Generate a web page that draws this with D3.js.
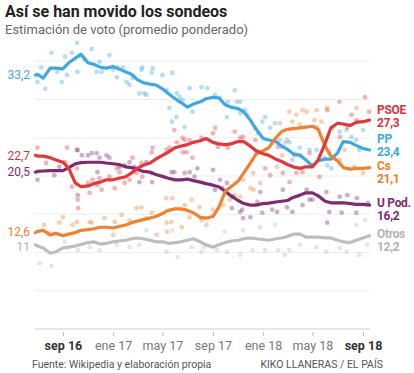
<!DOCTYPE html>
<html>
<head>
<meta charset="utf-8">
<script src="https://cdn.jsdelivr.net/npm/d3@7"></script>
<style>
  body { margin: 0; background: #fff; }
  svg { font-family: Roboto, "Noto Sans", sans-serif; }
</style>
</head>
<body>
<div id="chart"></div>
<script>
// estimacion de voto, promedio ponderado (cada quincena)
const dates = [
  "2016-06-26","2016-07-01","2016-07-15","2016-08-01","2016-08-15","2016-09-01","2016-09-15",
  "2016-10-01","2016-10-15","2016-11-01","2016-11-15","2016-12-01","2016-12-15",
  "2017-01-01","2017-01-15","2017-02-01","2017-02-15","2017-03-01","2017-03-15","2017-04-01","2017-04-15",
  "2017-05-01","2017-05-15","2017-06-01","2017-06-15","2017-07-01","2017-07-15","2017-08-01","2017-08-15",
  "2017-09-01","2017-09-15","2017-10-01","2017-10-15","2017-11-01","2017-11-15","2017-12-01","2017-12-15",
  "2018-01-01","2018-01-15","2018-02-01","2018-02-15","2018-03-01","2018-03-15","2018-04-01","2018-04-15",
  "2018-05-01","2018-05-15","2018-06-01","2018-06-15","2018-07-01","2018-07-15","2018-08-01","2018-08-15",
  "2018-09-01","2018-09-17"
];

const pp = [33.2,33.3,32.8,34.1,34.1,34.0,34.8,35.4,35.9,34.8,34.6,34.2,34.1,
  34.3,34.0,33.6,33.3,32.6,32.2,32.0,31.9,31.4,30.8,30.1,29.6,29.0,29.4,29.7,30.1,30.3,30.2,29.3,29.0,28.8,28.4,27.3,26.1,
  24.9,24.7,24.5,23.9,23.5,22.9,22.7,22.1,21.3,22.0,22.2,22.2,23.0,24.5,24.4,24.0,23.6,23.4];
const psoe = [22.7,22.6,22.6,22.4,22.1,21.8,21.0,19.1,18.6,18.7,19.0,19.2,19.5,
  19.5,19.7,19.9,20.4,21.0,21.4,21.7,22.2,22.7,23.1,23.7,23.9,24.1,24.4,24.6,24.9,24.4,24.2,24.1,24.2,24.5,24.5,23.9,23.3,
  22.9,22.7,22.2,21.9,21.5,21.2,21.0,21.2,21.2,22.1,24.3,26.3,26.9,26.8,26.6,27.0,27.1,27.3];
const cs = [12.6,12.75,12.9,12.3,12.5,12.2,12.4,12.6,12.9,13.0,13.1,13.3,13.3,
  13.2,13.4,13.6,13.9,14.1,14.3,14.5,14.7,15.1,15.5,15.7,15.7,15.5,15.2,14.6,14.5,14.7,15.9,18.0,18.6,19.3,20.4,21.7,22.9,
  23.3,23.7,25.0,25.8,26.1,26.2,26.3,26.4,26.5,26.1,23.9,22.6,22.0,21.1,20.9,21.0,21.0,21.1];
const upod = [20.5,20.6,20.65,20.7,20.7,20.7,21.1,21.6,21.75,21.8,21.8,21.8,21.7,
  21.6,21.5,21.2,21.1,20.9,20.6,20.5,20.2,19.95,19.7,19.5,19.5,19.6,19.4,19.2,19.0,18.8,18.6,18.0,17.4,16.8,16.4,16.2,16.2,
  16.4,16.45,16.6,16.7,16.8,17.2,17.5,17.8,17.8,17.4,16.7,16.5,16.5,16.5,16.4,16.3,16.3,16.2];
const otros = [11.0,10.85,10.6,9.9,10.1,10.6,10.7,10.85,11.05,11.3,11.4,11.1,11.2,
  11.4,11.5,11.6,11.8,11.9,11.8,11.6,11.4,11.4,11.2,11.3,11.4,11.6,11.8,11.4,11.0,10.7,11.0,11.3,11.5,11.6,11.8,11.9,11.8,
  11.7,11.6,11.8,11.9,12.1,12.4,12.4,12.0,12.0,12.0,11.9,11.9,11.6,11.4,11.3,11.6,11.9,12.2];

// encuestas individuales [fecha, valor]
const ppPolls = [["2016-07-01",32.3],["2016-07-10",34.2],["2016-07-20",31.4],["2016-08-04",36.1],["2016-08-18",33.6],
  ["2016-08-29",32.3],["2016-09-06",35.6],["2016-09-11",33.2],["2016-09-23",36.1],["2016-10-05",37.4],["2016-10-06",33.6],
  ["2016-10-12",35.8],["2016-10-24",35.2],["2016-11-10",36.6],["2016-11-22",33.6],["2016-11-29",34.9],["2016-12-04",33.6],
  ["2016-12-23",35.8],["2017-01-01",33.9],["2017-01-10",32.9],["2017-01-12",34.2],["2017-01-25",34.2],["2017-02-03",32.3],
  ["2017-02-10",31.9],["2017-02-17",32.8],["2017-03-06",30.8],["2017-03-11",33.9],["2017-03-18",30.8],["2017-03-13",34.2],
  ["2017-04-05",33.5],["2017-04-07",34.1],["2017-05-01",33.2],["2017-05-25",33.5],["2017-03-23",30.6],["2017-05-11",31.2],
  ["2017-05-18",28.9],["2017-06-05",30.8],["2017-06-12",30.3],["2017-06-19",29.9],["2017-07-06",31.5],["2017-07-13",28.4],
  ["2017-08-04",31.6],["2017-05-24",27.1],["2017-06-04",27.7],["2017-06-24",26.4],["2017-08-18",31.5],["2017-09-06",30.6],
  ["2017-09-18",30.2],["2017-10-07",29.7],["2017-10-24",31.2],["2017-10-29",29.7],["2017-11-06",29.7],["2017-11-18",28.6],
  ["2017-10-05",27.7],["2017-11-07",28.2],["2017-11-23",28.0],["2017-12-30",27.1],["2018-01-06",27.7],["2018-01-18",26.3],
  ["2018-01-30",26.9],["2018-02-11",24.7],["2018-02-28",24.7],["2018-03-31",23.7],["2018-04-24",23.4],["2018-05-11",23.4],
  ["2018-05-30",22.4],["2018-06-16",21.0],["2018-07-06",25.8],["2018-07-23",26.0],["2018-08-04",25.1],["2018-08-16",24.7],
  ["2018-08-23",23.4],["2018-09-01",26.0],["2018-06-06",21.4],["2018-03-13",22.1],["2018-03-31",22.7],["2018-02-16",23.8],
  ["2018-03-06",24.4],["2017-12-13",26.3],["2017-12-20",25.6]];
const psoePolls = [["2016-07-01",23.7],["2016-07-22",21.7],["2016-09-06",21.8],["2016-09-11",23.7],["2016-10-07",23.4],
  ["2016-10-05",21.0],["2016-09-23",18.6],["2016-10-07",16.9],["2016-10-08",15.8],["2016-11-05",17.8],["2016-11-01",19.1],
  ["2016-11-12",19.5],["2016-11-24",18.8],["2016-12-04",18.2],["2016-11-29",19.7],["2016-12-23",19.9],["2017-01-05",18.4],
  ["2017-01-10",21.0],["2017-01-17",20.5],["2017-01-29",19.1],["2017-02-10",19.5],["2017-02-17",22.4],["2017-02-27",20.4],
  ["2017-03-11",21.7],["2017-03-13",19.9],["2017-04-05",23.1],["2017-04-07",23.7],["2017-05-11",23.4],["2017-05-18",23.7],
  ["2017-05-30",26.0],["2017-06-05",24.4],["2017-06-19",25.0],["2017-06-24",24.7],["2017-06-20",23.1],["2017-06-29",23.1],
  ["2017-07-13",22.4],["2017-07-06",24.7],["2017-08-04",25.0],["2017-09-01",25.6],["2017-09-06",26.3],["2017-09-13",23.8],
  ["2017-10-07",23.7],["2017-10-24",25.8],["2017-11-06",25.0],["2017-11-13",25.1],["2017-12-13",24.7],["2017-12-18",23.0],
  ["2018-01-06",21.0],["2018-01-18",20.1],["2018-02-18",20.4],["2018-03-06",19.2],["2018-03-23",20.4],["2018-02-06",23.8],
  ["2018-03-18",22.7],["2018-04-07",20.5],["2018-04-24",23.0],["2018-05-01",21.4],["2018-05-18",19.9],["2018-06-06",28.6],
  ["2018-07-06",29.7],["2018-07-07",25.1],["2018-07-25",26.4],["2018-08-16",27.3],["2018-09-06",30.3],["2018-09-16",28.4],
  ["2018-06-18",26.3],["2018-08-04",28.0]];
const csPolls = [["2016-07-17",13.6],["2016-07-29",12.5],["2016-08-23",13.9],["2016-09-01",14.6],["2016-09-25",13.6],
  ["2016-10-05",14.0],["2016-11-05",14.0],["2016-11-10",13.9],["2016-12-11",14.5],["2017-01-01",12.3],["2017-01-05",14.0],
  ["2017-01-22",14.9],["2017-02-10",14.2],["2017-02-27",15.8],["2017-03-11",15.9],["2017-03-23",14.5],["2017-04-05",15.2],
  ["2017-04-17",12.3],["2017-05-11",13.9],["2017-05-12",12.7],["2017-05-10",17.1],["2017-05-25",17.1],["2017-05-23",14.0],
  ["2017-06-17",13.3],["2017-06-24",16.2],["2017-07-06",14.6],["2017-07-11",16.9],["2017-07-30",15.9],["2017-08-04",14.2],
  ["2017-08-16",13.6],["2017-09-01",15.6],["2017-09-25",16.2],["2017-10-12",16.9],["2017-10-24",17.5],["2017-11-06",17.3],
  ["2017-11-13",19.5],["2017-12-01",18.4],["2017-12-08",20.4],["2017-12-09",18.2],["2017-12-25",19.1],["2018-02-04",21.2],
  ["2018-02-16",22.7],["2018-02-23",24.3],["2018-02-11",26.9],["2018-03-06",28.4],["2018-03-13",27.1],["2018-03-23",28.0],
  ["2018-03-31",26.7],["2018-04-07",28.6],["2018-04-17",28.4],["2018-05-06",27.3],["2018-05-11",28.6],["2018-05-12",26.4],
  ["2018-05-23",27.1],["2018-06-06",28.9],["2018-06-11",23.0],["2018-07-18",23.4],["2018-08-11",21.2],["2018-08-16",28.9],
  ["2018-09-01",20.4],["2018-07-06",22.1]];
const upodPolls = [["2016-07-01",19.5],["2016-08-11",20.1],["2016-08-23",21.2],["2016-10-05",23.4],["2016-10-07",17.5],
  ["2016-10-17",22.7],["2016-11-01",22.7],["2016-11-10",23.0],["2016-11-22",23.0],["2016-11-24",20.5],["2016-11-29",22.4],
  ["2016-12-16",22.7],["2016-12-23",22.4],["2017-01-17",21.2],["2017-01-29",21.4],["2017-02-10",21.8],["2017-02-22",21.2],
  ["2017-03-06",19.2],["2017-03-23",21.8],["2017-04-05",20.4],["2017-04-06",19.2],["2017-05-23",20.5],["2017-05-30",20.5],
  ["2017-06-24",20.4],["2017-07-06",20.5],["2017-07-18",19.9],["2017-07-25",21.0],["2017-09-01",20.8],["2017-09-06",18.2],
  ["2017-09-18",19.5],["2017-09-23",18.4],["2017-10-05",19.1],["2017-10-17",15.8],["2017-10-19",17.3],["2017-11-06",15.3],
  ["2017-11-11",15.6],["2017-11-13",14.5],["2017-12-01",14.6],["2017-12-18",16.6],["2017-12-25",17.9],["2017-12-30",15.2],
  ["2018-01-23",15.6],["2018-02-04",15.3],["2018-02-18",18.2],["2018-02-28",15.9],["2018-03-13",15.3],["2018-04-07",16.2],
  ["2018-04-17",18.2],["2018-04-24",16.9],["2018-05-01",16.9],["2018-06-04",17.9],["2018-06-06",13.9],["2018-06-11",15.3],
  ["2018-07-06",17.3],["2018-07-11",15.2],["2018-07-25",17.5],["2018-08-16",15.2],["2018-08-17",17.1],["2018-09-13",16.5]];
const otrosPolls = [["2016-07-06",8.6],["2016-08-04",8.2],["2016-09-06",11.4],["2016-10-07",10.3],["2016-11-05",10.7],
  ["2016-11-29",10.3],["2017-01-10",11.0],["2017-02-10",10.7],["2017-03-06",11.0],["2017-03-23",12.9],["2017-05-11",10.1],
  ["2017-05-25",12.9],["2017-06-07",9.4],["2017-07-11",10.7],["2017-08-04",10.1],["2017-08-11",10.7],["2017-09-11",10.3],
  ["2017-09-30",12.7],["2017-10-05",10.1],["2017-11-06",9.7],["2017-11-13",12.9],["2017-12-06",10.3],["2018-01-06",10.3],
  ["2018-01-30",13.6],["2018-02-06",10.3],["2018-02-23",9.7],["2018-03-06",10.3],["2018-03-31",11.0],["2018-05-11",10.7],
  ["2018-06-04",10.1],["2018-07-06",10.6],["2018-07-23",10.1],["2018-08-23",9.7],["2018-09-06",14.2],["2018-09-11",11.0],
  ["2017-12-25",13.3],["2018-08-16",13.6]];

const tickDates = ["2016-09-01","2017-01-01","2017-05-01","2017-09-01","2018-01-01","2018-05-01","2018-09-01"];
const tickLabels = ["sep 16","ene 17","may 17","sep 17","ene 18","may 18","sep 18"];
const gridValues = [5,10,15,20,25,30,35];

const parties = [
  {name: "PSOE", values: psoe, polls: psoePolls, color: "#e2383c", text: "#d8343a"},
  {name: "PP", values: pp, polls: ppPolls, color: "#3ea8e5", text: "#3ea8e5"},
  {name: "Cs", values: cs, polls: csPolls, color: "#f08131", text: "#ef7b2b"},
  {name: "U Pod.", values: upod, polls: upodPolls, color: "#7f2b6f", text: "#7f2b6f"},
  {name: "Otros", values: otros, polls: otrosPolls, color: "#bdbdbd", text: "#b3b3b3"}
];
// desplazamiento vertical de las etiquetas (px)
const labelShift = {"PSOE": 0, "PP": 0, "Cs": 9, "U Pod.": 8, "Otros": 9};
const leftShift = {"PSOE": 0, "PP": 0, "Cs": -1, "U Pod.": 0, "Otros": 1.5};
const drawOrder = ["Otros", "U Pod.", "PP", "Cs", "PSOE"];

const width = 414, height = 373;
const parse = d3.timeParse("%Y-%m-%d");

const svg = d3.select("#chart").append("svg")
  .attr("width", width)
  .attr("height", height);

const x = d3.scaleTime()
  .domain([parse("2016-06-25"), parse("2018-09-18")])
  .range([35, 370]);
const y = d3.scaleLinear().domain([0, 35]).range([329, 61.25]);

// titulos
svg.append("text").attr("x", 5).attr("y", 17)
  .attr("font-size", 16).attr("font-weight", 700).attr("fill", "#222")
  .text("Así se han movido los sondeos");
svg.append("text").attr("x", 5).attr("y", 34)
  .attr("font-size", 13).attr("fill", "#666")
  .text("Estimación de voto (promedio ponderado)");

// rejilla
svg.append("g").selectAll("line")
  .data(gridValues).enter().append("line")
  .attr("x1", 35).attr("x2", 370)
  .attr("y1", d => y(d)).attr("y2", d => y(d))
  .attr("stroke", "#eeeeee").attr("stroke-width", 1);

svg.append("line")
  .attr("x1", 35).attr("x2", 370)
  .attr("y1", y(0)).attr("y2", y(0))
  .attr("stroke", "#cfcfcf").attr("stroke-width", 1);

// eje x
const xAxis = svg.append("g")
  .attr("transform", "translate(0,332)")
  .call(d3.axisBottom(x)
    .tickValues(tickDates.map(parse))
    .tickSize(4)
    .tickPadding(5)
    .tickFormat((d, i) => tickLabels[i]));
xAxis.select(".domain").remove();
xAxis.selectAll(".tick line").attr("stroke", "#bbb");
xAxis.selectAll(".tick text")
  .attr("font-family", "Roboto, sans-serif")
  .attr("font-size", 12.5)
  .attr("fill", (d, i) => (i === 0 || i === tickLabels.length - 1) ? "#333" : "#777")
  .attr("font-weight", (d, i) => (i === 0 || i === tickLabels.length - 1) ? 700 : 400);

// puntos de encuestas
parties.forEach(p => {
  svg.append("g").selectAll("circle")
    .data(p.polls).enter().append("circle")
    .attr("cx", d => x(parse(d[0])))
    .attr("cy", d => y(d[1]))
    .attr("r", 2.4)
    .attr("fill", p.color)
    .attr("opacity", 0.38);
});

// lineas
const line = d3.line()
  .x((d, i) => x(parse(dates[i])))
  .y(d => y(d));

drawOrder.forEach(n => {
  const p = parties.find(q => q.name === n);
  svg.append("path")
    .attr("d", line(p.values))
    .attr("fill", "none")
    .attr("stroke", p.color)
    .attr("stroke-width", 3.2)
    .attr("stroke-linejoin", "round")
    .attr("stroke-linecap", "round");
});

const fmt = v => String(v).replace(".", ",");

// etiquetas izquierda
parties.forEach(p => {
  svg.append("text")
    .attr("x", 30)
    .attr("y", y(p.values[0]) + 4.3 + leftShift[p.name])
    .attr("text-anchor", "end")
    .attr("font-size", 12)
    .attr("fill", p.text)
    .text(fmt(p.values[0]));
});

// etiquetas derecha
parties.forEach(p => {
  const yy = y(p.values[p.values.length - 1]) + labelShift[p.name];
  const g = svg.append("g")
    .attr("font-size", 12)
    .attr("font-weight", 700)
    .attr("letter-spacing", -0.3)
    .attr("fill", p.text);
  g.append("text").attr("x", 377).attr("y", yy - 6.5).text(p.name);
  g.append("text").attr("x", 377).attr("y", yy + 6.5).text(fmt(p.values[p.values.length - 1]));
});

// fuente
svg.append("text").attr("x", 32).attr("y", 368)
  .attr("font-size", 10.5).attr("fill", "#555")
  .text("Fuente: Wikipedia y elaboración propia");
svg.append("text").attr("x", 383).attr("y", 368)
  .attr("text-anchor", "end")
  .attr("font-size", 10.5).attr("fill", "#555")
  .text("KIKO LLANERAS / EL PAÍS");
</script>
</body>
</html>
